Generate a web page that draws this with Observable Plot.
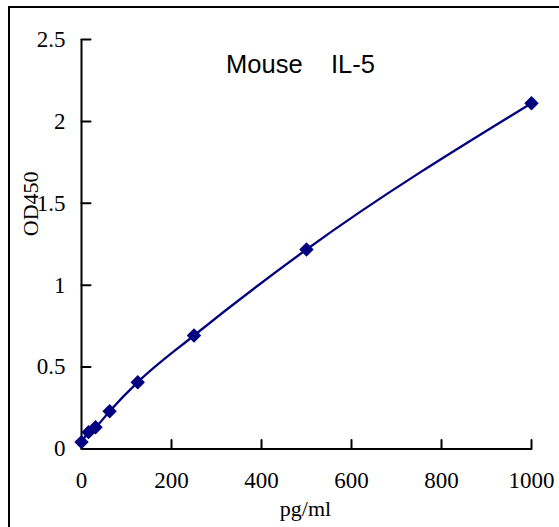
<!DOCTYPE html>
<html>
<head>
<meta charset="utf-8">
<script src="https://cdn.jsdelivr.net/npm/d3@7"></script>
<script src="https://cdn.jsdelivr.net/npm/@observablehq/plot@0.6"></script>
<style>
  html, body { margin: 0; padding: 0; background: #fff; overflow: hidden; width: 559px; height: 527px; }
  #wrap { position: relative; width: 559px; height: 527px; }
  #frame { position: absolute; left: 8px; top: 6px; width: 700px; height: 700px; border: 2px solid #000; pointer-events: none; }
  #chart { position: absolute; left: 0; top: 0; }
</style>
</head>
<body>
<div id="wrap"><div id="chart"></div><div id="frame"></div></div>
<script>
const concentration = [0, 15.6, 31.25, 62.5, 125, 250, 500, 1000];
const od450 = [0.042, 0.103, 0.133, 0.231, 0.408, 0.693, 1.218, 2.111];
const xTicks = [0, 200, 400, 600, 800, 1000];
const yTicks = [0, 0.5, 1, 1.5, 2, 2.5];
const title = "Mouse\u00a0\u00a0\u00a0\u00a0IL-5";
const xLabel = "pg/ml";
const yLabel = "OD450";

const data = concentration.map((c, i) => ({c, od: od450[i]}));
const navy = "#000080";
const serif = "'Liberation Serif', 'DejaVu Serif', serif";
const tickShape = {draw(context, l) { context.moveTo(0, 0); context.lineTo(0, -l); }};

const chart = Plot.plot({
  width: 559,
  height: 527,
  marginLeft: 81,
  marginRight: 28,
  marginTop: 39,
  marginBottom: 78.5,
  style: {fontFamily: serif, fontSize: "22px", color: "#000", background: "transparent"},
  x: {domain: [0, 1000]},
  y: {domain: [0, 2.5]},
  marks: [
    Plot.axisX(xTicks, {tickSize: 0, tickPadding: 23, fontSize: 23, tickFormat: d => String(d), label: null}),
    Plot.axisY(yTicks, {tickSize: 0, tickPadding: 16, fontSize: 23, tickFormat: d => String(d), label: null}),
    Plot.vector(xTicks, {x: d => d, y: 0, length: 9, rotate: 0, anchor: "start", shape: tickShape, stroke: "#000", strokeWidth: 2}),
    Plot.vector(yTicks, {x: 0, y: d => d, length: 9, rotate: 90, anchor: "start", shape: tickShape, stroke: "#000", strokeWidth: 2}),
    Plot.ruleY([0], {x1: 0, x2: 1000, stroke: "#000", strokeWidth: 2}),
    Plot.ruleX([0], {y1: 0, y2: 2.5, stroke: "#000", strokeWidth: 2}),
    Plot.line(data, {x: "c", y: "od", curve: "monotone-x", stroke: navy, strokeWidth: 2.3}),
    Plot.dot(data, {x: "c", y: "od", symbol: "diamond2", r: 6.5, fill: navy, stroke: "none"}),
    Plot.text([title], {frameAnchor: "top", dx: -6, dy: 25.7, lineAnchor: "middle", fontFamily: "'Liberation Sans', Arial, sans-serif", fontSize: 25.5, fill: "#000"}),
    Plot.text([xLabel], {frameAnchor: "bottom", dx: -1, dy: 59.5, lineAnchor: "middle", fontSize: 22, fill: "#000"}),
    Plot.text([yLabel], {frameAnchor: "left", dx: -51, dy: -8, rotate: -90, lineAnchor: "middle", fontSize: 22, fill: "#000"})
  ]
});
document.getElementById("chart").appendChild(chart);
</script>
</body>
</html>
